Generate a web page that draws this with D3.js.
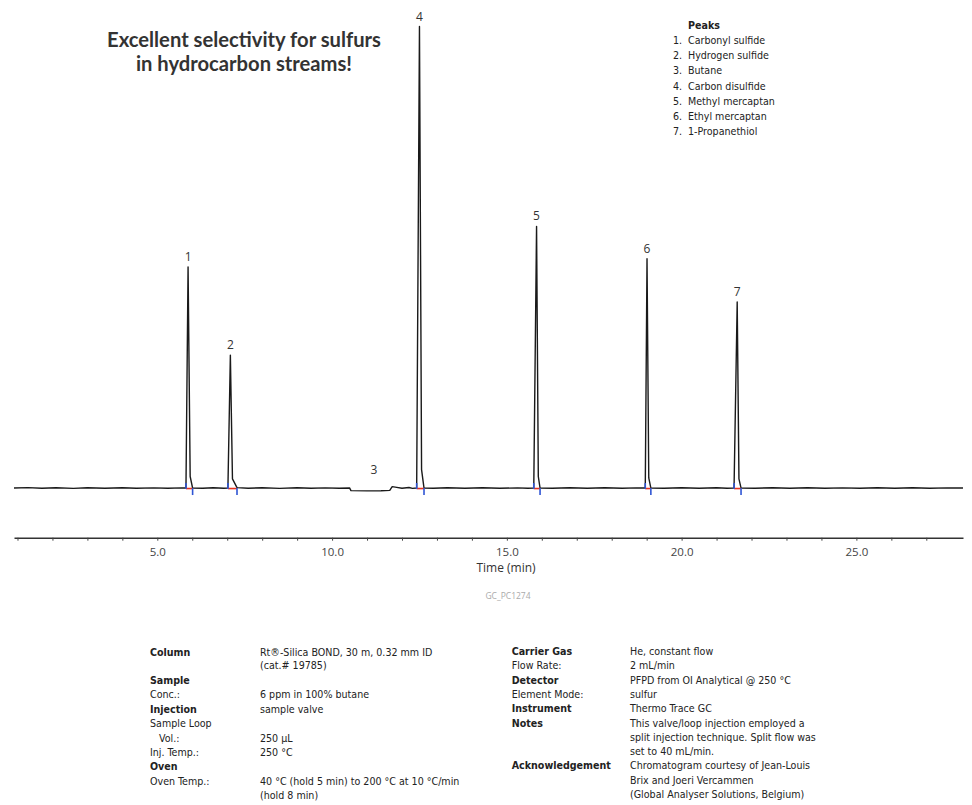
<!DOCTYPE html>
<html>
<head>
<meta charset="utf-8">
<script src="https://cdn.jsdelivr.net/npm/d3@7"></script>
<style>
  body { margin: 0; background: #fff; }
  svg { display: block; }
  .narrow { font-family: 'Liberation Sans Narrow', 'DejaVu Sans Condensed', sans-serif; fill: #222; }
</style>
</head>
<body>
<svg width="972" height="805"></svg>
<script>
// Chromatogram trace: [time (min), detector signal (arbitrary units)]
const trace = [
  [0.9, 0], [1.3, 0.08], [1.7, -0.05], [2.1, 0.06], [2.6, -0.08], [3.0, 0.05],
  [3.5, -0.04], [4.0, 0.07], [4.4, -0.06], [4.9, 0.04], [5.3, -0.05], [5.7, 0.03],
  [5.82, 0], [5.88, 47.9], [5.94, 2.5], [6.01, 0],
  [6.3, -0.06], [6.6, 0.05], [6.9, -0.04],
  [7.02, 0], [7.09, 28.8], [7.15, 2.0], [7.28, 0.1],
  [7.6, -0.05], [8.0, 0.06], [8.5, -0.07], [9.0, 0.05], [9.4, -0.06], [9.8, 0.04],
  [10.2, -0.05], [10.5, 0.02], [10.54, -0.55], [11.0, -0.62], [11.4, -0.6],
  [11.65, -0.5], [11.72, 0.3], [11.85, 0.15], [12.0, -0.05], [12.2, 0.12], [12.3, -0.08],
  [12.42, 0], [12.5, 100], [12.56, 4.0], [12.63, 0],
  [12.9, -0.05], [13.3, 0.06], [13.8, -0.05], [14.3, 0.05], [14.8, -0.06], [15.3, 0.04],
  [15.6, -0.04], [15.77, 0], [15.85, 56.7], [15.9, 2.5], [15.95, 0],
  [16.3, -0.06], [16.8, 0.05], [17.3, -0.04], [17.8, 0.06], [18.3, -0.05], [18.7, 0.04],
  [18.96, 0], [19.01, 49.7], [19.06, 2.2], [19.12, 0],
  [19.5, -0.05], [20.0, 0.06], [20.5, -0.06], [21.0, 0.05], [21.3, -0.04],
  [21.5, 0], [21.59, 40.3], [21.64, 2.0], [21.7, 0],
  [22.1, -0.05], [22.6, 0.06], [23.1, -0.04], [23.6, 0.05], [24.1, -0.06], [24.6, 0.04],
  [25.1, -0.05], [25.6, 0.06], [26.1, -0.04], [26.6, 0.05], [27.1, -0.06], [27.6, 0.04],
  [28.05, 0]
];

// Peak table
const peakIds = ["1", "2", "3", "4", "5", "6", "7"];
const peakNames = ["Carbonyl sulfide", "Hydrogen sulfide", "Butane", "Carbon disulfide",
  "Methyl mercaptan", "Ethyl mercaptan", "1-Propanethiol"];
const peakApex = [5.88, 7.09, 11.2, 12.5, 15.85, 19.01, 21.59];
const peakHeight = [47.9, 28.8, 1.7, 100, 56.7, 49.7, 40.3];
// integration start / end of the sulfur peaks (butane not integrated)
const integStart = [5.82, 7.02, 12.42, 15.77, 18.96, 21.5];
const integEnd = [6.01, 7.28, 12.63, 15.95, 19.12, 21.7];

const xTicks = d3.range(1, 28);
const xLabelTicks = [5, 10, 15, 20, 25];

const title = ["Excellent selectivity for sulfurs", "in hydrocarbon streams!"];

// conditions: [label, value, bold]
const condLeft = [
  ["Column", "Rt®-Silica BOND, 30 m, 0.32 mm ID", true],
  ["", "(cat.# 19785)", false],
  ["Sample", "", true],
  ["Conc.:", "6 ppm in 100% butane", false],
  ["Injection", "sample valve", true],
  ["Sample Loop", "", false],
  ["   Vol.:", "250 µL", false],
  ["Inj. Temp.:", "250 °C", false],
  ["Oven", "", true],
  ["Oven Temp.:", "40 °C (hold 5 min) to 200 °C at 10 °C/min", false],
  ["", "(hold 8 min)", false]
];
const condRight = [
  ["Carrier Gas", "He, constant flow", true],
  ["Flow Rate:", "2 mL/min", false],
  ["Detector", "PFPD from OI Analytical @ 250 °C", true],
  ["Element Mode:", "sulfur", false],
  ["Instrument", "Thermo Trace GC", true],
  ["Notes", "This valve/loop injection employed a", true],
  ["", "split injection technique. Split flow was", false],
  ["", "set to 40 mL/min.", false],
  ["Acknowledgement", "Chromatogram courtesy of Jean-Louis", true],
  ["", "Brix and Joeri Vercammen", false],
  ["", "(Global Analyser Solutions, Belgium)", false]
];

const svg = d3.select("svg");
svg.append("rect").attr("width", 972).attr("height", 805).attr("fill", "#fff");

const x = d3.scaleLinear().domain([0.9, 28.05]).range([14, 963]);
const y = d3.scaleLinear().domain([-10.76, 100]).range([537.7, 26.5]);

// title
svg.selectAll(".title")
  .data(title)
  .enter().append("text")
  .attr("class", "title")
  .attr("x", 244)
  .attr("y", (d, i) => 47 + i * 23.5)
  .attr("text-anchor", "middle")
  .attr("font-family", "Lato, 'Open Sans', sans-serif")
  .attr("font-weight", 700)
  .attr("font-size", 20.2)
  .attr("fill", "#333")
  .text(d => d);

// peaks legend
const legend = svg.append("g").attr("class", "narrow").attr("font-size", 10.6);
legend.append("text").attr("x", 688).attr("y", 29).attr("font-weight", "bold").text("Peaks");
peakNames.forEach((name, i) => {
  legend.append("text").attr("x", 682).attr("y", 44 + i * 15.2)
    .attr("text-anchor", "end").text(peakIds[i] + ".");
  legend.append("text").attr("x", 688).attr("y", 44 + i * 15.2).text(name);
});

// trace
const line = d3.line().x(d => x(d[0])).y(d => y(d[1]));
svg.append("path")
  .datum(trace)
  .attr("fill", "none")
  .attr("stroke", "#1a1a1a")
  .attr("stroke-width", 1.4)
  .attr("stroke-linejoin", "round")
  .attr("d", line);

// integration marks
const y0 = y(0);
svg.selectAll(".base")
  .data(integStart)
  .enter().append("line")
  .attr("x1", d => x(d)).attr("x2", (d, i) => x(integEnd[i]))
  .attr("y1", y0 + 0.5).attr("y2", y0 + 0.5)
  .attr("stroke", "#e8321e").attr("stroke-width", 1.6);
svg.selectAll(".tickS")
  .data(integStart)
  .enter().append("line")
  .attr("x1", d => x(d)).attr("x2", d => x(d))
  .attr("y1", y0 - 5).attr("y2", y0 + 1)
  .attr("stroke", "#2f55d4").attr("stroke-width", 1.6);
svg.selectAll(".tickE")
  .data(integEnd)
  .enter().append("line")
  .attr("x1", d => x(d)).attr("x2", d => x(d))
  .attr("y1", y0).attr("y2", y0 + 7)
  .attr("stroke", "#2f55d4").attr("stroke-width", 1.6);

// peak numbers
svg.selectAll(".plabel")
  .data(peakIds)
  .enter().append("text")
  .attr("class", "plabel")
  .attr("x", (d, i) => x(peakApex[i]))
  .attr("y", (d, i) => y(peakHeight[i]) - 6)
  .attr("text-anchor", "middle")
  .attr("font-family", "'Open Sans', sans-serif")
  .attr("font-size", 12)
  .attr("fill", "#333")
  .text(d => d);

// x axis
const axis = d3.axisBottom(x)
  .tickValues(xTicks)
  .tickSize(3)
  .tickSizeOuter(0)
  .tickFormat(d => xLabelTicks.includes(d) ? d3.format(".1f")(d) : "");
const gx = svg.append("g")
  .attr("transform", "translate(0,537.7)")
  .call(axis);
gx.select(".domain").attr("stroke", "#333").attr("stroke-width", 1.5);
gx.selectAll(".tick line").attr("stroke", "#444");
gx.selectAll(".tick text")
  .attr("y", 10)
  .attr("font-family", "'Open Sans', sans-serif")
  .attr("font-size", 11.5)
  .attr("fill", "#444");

svg.append("text")
  .attr("x", 506).attr("y", 572)
  .attr("text-anchor", "middle")
  .attr("font-family", "'Open Sans', sans-serif")
  .attr("font-size", 12)
  .attr("fill", "#333")
  .text("Time (min)");

svg.append("text")
  .attr("x", 508).attr("y", 599)
  .attr("text-anchor", "middle")
  .attr("font-family", "'Open Sans', sans-serif")
  .attr("font-size", 8.5)
  .attr("fill", "#aaa")
  .text("GC_PC1274");

// conditions tables
const leftRowY = [655.5, 668.5, 684, 698.4, 712.8, 727.2, 741.6, 756, 770.4, 784.8, 799.2];
const cl = svg.append("g").attr("class", "narrow").attr("font-size", 10.6);
condLeft.forEach((r, i) => {
  cl.append("text").attr("x", 150).attr("y", leftRowY[i])
    .attr("font-weight", r[2] ? "bold" : "normal")
    .attr("xml:space", "preserve").text(r[0]);
  cl.append("text").attr("x", 260).attr("y", leftRowY[i]).text(r[1]);
});
const cr = svg.append("g").attr("class", "narrow").attr("font-size", 10.6);
condRight.forEach((r, i) => {
  cr.append("text").attr("x", 511.7).attr("y", 655 + i * 14.3)
    .attr("font-weight", r[2] ? "bold" : "normal").text(r[0]);
  cr.append("text").attr("x", 630).attr("y", 655 + i * 14.3).text(r[1]);
});
</script>
</body>
</html>
